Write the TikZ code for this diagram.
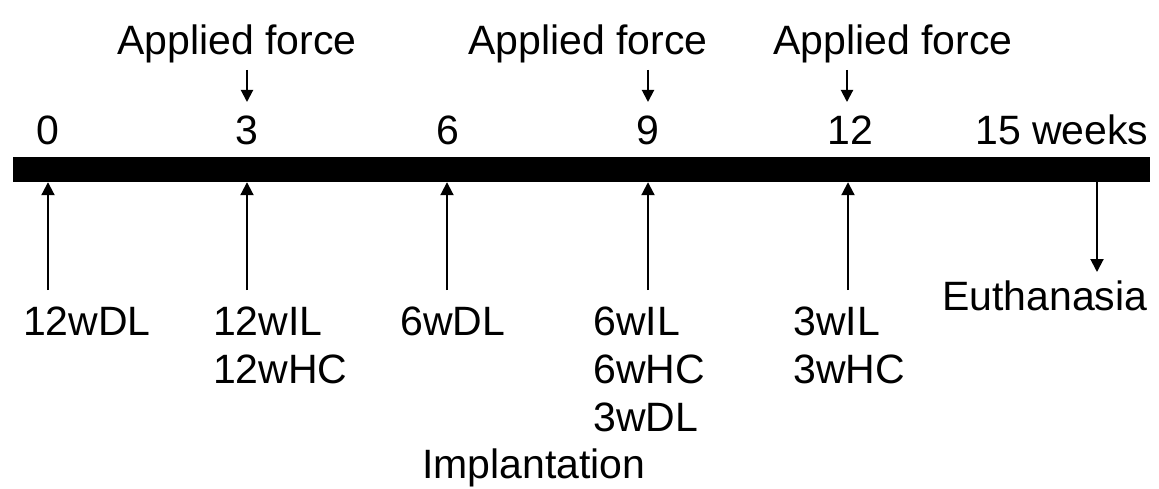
\documentclass[tikz,border=0pt]{standalone}
\usepackage{fontspec}
\setmainfont{Liberation Sans}
\usetikzlibrary{arrows.meta}
\begin{document}
\begin{tikzpicture}[x=1pt,y=-1pt,
  lbl/.style={inner sep=0pt, font=\fontsize{41}{48}\selectfont, anchor=base west},
  num/.style={inner sep=0pt, font=\fontsize{41}{48}\selectfont, anchor=base},
  arr/.style={line width=2pt, -{Triangle[width=13pt,length=13pt]}},
  sarr/.style={line width=2pt, -{Triangle[width=12pt,length=12pt]}}]
\useasboundingbox (0,0) rectangle (1159,489);
% bar
\node[fill=black, inner sep=0pt, minimum width=1137pt, minimum height=25pt] (bar) at (581.5,169.5) {};
% top labels
\node[lbl] (af1) at (117,55) {Applied force};
\node[lbl] (af2) at (468,55) {Applied force};
\node[lbl] (af3) at (773,55) {Applied force};
\coordinate (t1) at (247,70);
\coordinate (t2) at (648,70);
\coordinate (t3) at (847,70);
% numbers
\node[num] (n0) at (48,145) {0};
\node[num] (n3) at (247,145) {3};
\node[num] (n6) at (448,145) {6};
\node[num] (n9) at (648,145) {9};
\node[num] (n12) at (850,145) {12};
\node[lbl] (n15) at (975,145) {15 weeks};
\coordinate (s1) at (247,102);
\coordinate (s2) at (648,102);
\coordinate (s3) at (847,102);
\draw[sarr] (t1) -- (s1);
\draw[sarr] (t2) -- (s2);
\draw[sarr] (t3) -- (s3);
% bottom arrows
\coordinate (b0) at (48,290);
\coordinate (b3) at (247,290);
\coordinate (b6) at (447,290);
\coordinate (b9) at (648,290);
\coordinate (b12) at (848,290);
\draw[arr] (b0) -- (b0 |- bar.south);
\draw[arr] (b3) -- (b3 |- bar.south);
\draw[arr] (b6) -- (b6 |- bar.south);
\draw[arr] (b9) -- (b9 |- bar.south);
\draw[arr] (b12) -- (b12 |- bar.south);
% euthanasia
\node[lbl] (eu) at (942,310) {Euthanasia};
\coordinate (e0) at (1097,182);
\coordinate (e1) at (1097,272);
\draw[arr] (e0) -- (e1);
% bottom labels
\node[lbl] (l0) at (23,335) {12wDL};
\node[lbl] (l3a) at (213,335) {12wIL};
\node[lbl] (l3b) at (213,383) {12wHC};
\node[lbl] (l6) at (400,335) {6wDL};
\node[lbl] (l9a) at (593,335) {6wIL};
\node[lbl] (l9b) at (593,383) {6wHC};
\node[lbl] (l9c) at (593,431) {3wDL};
\node[lbl] (imp) at (422,478) {Implantation};
\node[lbl] (l12a) at (793,335) {3wIL};
\node[lbl] (l12b) at (793,383) {3wHC};
\end{tikzpicture}
\end{document}
